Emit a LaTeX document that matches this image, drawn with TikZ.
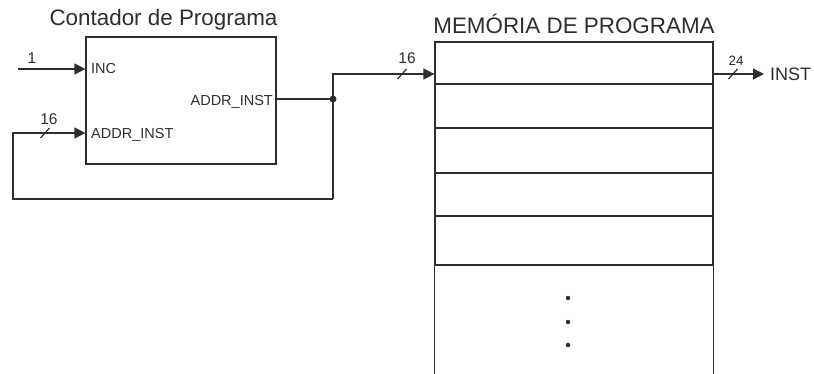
\documentclass[tikz,border=0pt]{standalone}
\usepackage{fontspec}
\setmainfont{Liberation Sans}
\usetikzlibrary{arrows.meta}
\tikzset{
  ink/.style={color=black!82},
  wire/.style={line width=1.2pt},
  sig/.style={wire,-{Triangle[length=11pt,width=11pt]}},
  pcbox/.style={draw,wire,minimum width=190pt,minimum height=127pt,inner sep=0pt},
  row/.style={draw,wire,minimum width=278pt,inner sep=0pt},
  lbl/.style={inner sep=0pt,font=\fontsize{14.5}{16}\selectfont},
  num/.style={inner sep=0pt,font=\fontsize{15.5}{17}\selectfont},
  ttl/.style={inner sep=0pt,font=\fontsize{22.4}{25}\selectfont},
  dot/.style={circle,fill,inner sep=0pt,minimum size=7pt},
  sdot/.style={circle,fill,inner sep=0pt,minimum size=4.5pt},
}
\newcommand{\busslash}[1]{\draw[wire] ([xshift=-4.5pt,yshift=-5pt]#1) -- ([xshift=4.5pt,yshift=5pt]#1);}
\begin{document}
\begin{tikzpicture}[x=1pt,y=-1pt,ink]
\useasboundingbox (0,0) rectangle (814,374);
% Program counter
\node[ttl,anchor=base] (pct) at (163.5,26) {Contador de Programa};
\node[pcbox] (pc) at (181,100.5) {};
\node[lbl,anchor=base west] (inc) at (91,74) {INC};
\node[lbl,anchor=base west] (ain) at (91,139) {ADDR\_INST};
\node[lbl,anchor=base east] (aout) at (273,106) {ADDR\_INST};
% Memory
\node[ttl,anchor=base] (mt) at (574,34) {MEMÓRIA DE PROGRAMA};
\node[row,minimum height=42pt] (m1) at (574,63) {};
\node[row,minimum height=44pt] (m2) at (574,106) {};
\node[row,minimum height=45pt] (m3) at (574,150.5) {};
\node[row,minimum height=43pt] (m4) at (574,194.5) {};
\node[row,minimum height=49pt] (m5) at (574,240.5) {};
\coordinate (mbl) at (m5.south west |- 0,380);
\coordinate (mbr) at (m5.south east |- 0,380);
\draw[wire] (m5.south west) -- (mbl);
\draw[wire] (m5.south east) -- (mbr);
\node[sdot] (d1) at (568,298) {};
\node[sdot] (d2) at (568,322) {};
\node[sdot] (d3) at (568,345) {};
% Coordinates for wires
\coordinate (incs) at (18,69);
\coordinate (j) at (333,99);
\coordinate (jt) at (333,74);
\coordinate (jb) at (333,199);
\coordinate (lb) at (13,199);
\coordinate (lt) at (13,133);
\coordinate (outend) at (764,74);
% Wires
\draw[sig] (incs) -- (incs -| pc.west);
\node[num,anchor=base] (n1) at (32,64) {1};
\draw[wire] (pc.east |- j) -- (j);
\node[dot] at (j) {};
\draw[sig] (jb) -- (lb) -- (lt) -- (lt -| pc.west);
\draw[sig] (jb) -- (jt) -- (jt -| m1.west);
\draw[sig] (m1.east |- jt) -- (outend);
\node[lbl,anchor=base west,font=\fontsize{18}{20}\selectfont] (inst) at (770,81) {INST};
% bus widths
\coordinate (s1) at (45,133);
\busslash{s1}
\node[num,anchor=base] (n16a) at (49,125) {16};
\coordinate (s2) at (402,74);
\busslash{s2}
\node[num,anchor=base] (n16b) at (407,64) {16};
\coordinate (s3) at (733,74);
\busslash{s3}
\node[num,anchor=base,font=\fontsize{13.5}{15}\selectfont] (n24) at (736,66) {24};
\end{tikzpicture}
\end{document}
